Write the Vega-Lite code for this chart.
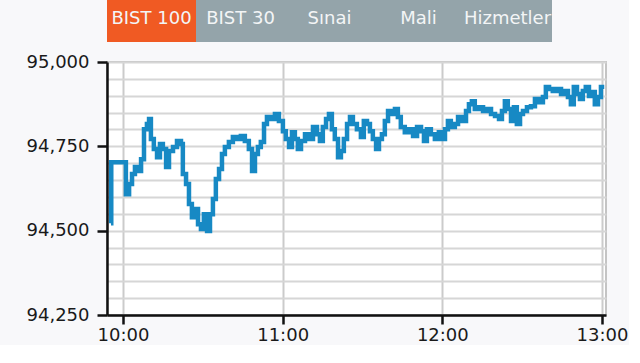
{
  "$schema": "https://vega.github.io/schema/vega-lite/v6.json",
  "background": "#f8f8fa",
  "padding": 0,
  "spacing": 10,
  "align": "none",
  "config": {"font": "DejaVu Sans", "view": {"stroke": null}},
  "vconcat": [
    {
      "width": 445,
      "height": 42,
      "data": {"values": [
        {"tab": "BIST 100", "active": "yes"},
        {"tab": "BIST 30", "active": "no"},
        {"tab": "Sınai", "active": "no"},
        {"tab": "Mali", "active": "no"},
        {"tab": "Hizmetler", "active": "no"}
      ]},
      "encoding": {
        "x": {"field": "tab", "type": "nominal", "sort": null, "scale": {"paddingInner": 0, "paddingOuter": 0}, "axis": null}
      },
      "layer": [
        {
          "mark": {"type": "rect"},
          "encoding": {
            "color": {"field": "active", "type": "nominal", "scale": {"domain": ["yes", "no"], "range": ["#f05a23", "#94a4aa"]}, "legend": null}
          }
        },
        {
          "mark": {"type": "text", "fontSize": 18, "color": "#f3f5f6", "dy": -2},
          "encoding": {"text": {"field": "tab"}}
        }
      ]
    },
    {
      "width": 499,
      "height": 253,
      "view": {"fill": "white", "stroke": "#c4c4c4", "strokeWidth": 2},
      "data": {
        "format": {"parse": {"t": "utc:'%H:%M:%S'"}},
        "values": [
          {"t": "09:55:30", "v": 94522},
          {"t": "09:55:36", "v": 94703},
          {"t": "10:00:00", "v": 94703},
          {"t": "10:01:06", "v": 94608},
          {"t": "10:02:18", "v": 94638},
          {"t": "10:03:24", "v": 94668},
          {"t": "10:04:30", "v": 94689},
          {"t": "10:05:36", "v": 94677},
          {"t": "10:06:48", "v": 94712},
          {"t": "10:07:54", "v": 94801},
          {"t": "10:09:00", "v": 94816},
          {"t": "10:09:48", "v": 94831},
          {"t": "10:10:30", "v": 94772},
          {"t": "10:11:36", "v": 94742},
          {"t": "10:12:48", "v": 94718},
          {"t": "10:13:54", "v": 94757},
          {"t": "10:15:00", "v": 94742},
          {"t": "10:16:12", "v": 94689},
          {"t": "10:17:18", "v": 94736},
          {"t": "10:18:48", "v": 94748},
          {"t": "10:20:18", "v": 94766},
          {"t": "10:21:48", "v": 94757},
          {"t": "10:22:30", "v": 94668},
          {"t": "10:23:42", "v": 94638},
          {"t": "10:24:48", "v": 94579},
          {"t": "10:25:54", "v": 94540},
          {"t": "10:27:06", "v": 94564},
          {"t": "10:28:12", "v": 94519},
          {"t": "10:29:18", "v": 94505},
          {"t": "10:30:24", "v": 94549},
          {"t": "10:31:36", "v": 94499},
          {"t": "10:32:42", "v": 94549},
          {"t": "10:33:48", "v": 94594},
          {"t": "10:34:54", "v": 94653},
          {"t": "10:36:06", "v": 94683},
          {"t": "10:37:12", "v": 94727},
          {"t": "10:38:18", "v": 94748},
          {"t": "10:39:48", "v": 94763},
          {"t": "10:41:18", "v": 94778},
          {"t": "10:42:48", "v": 94772},
          {"t": "10:44:18", "v": 94781},
          {"t": "10:45:48", "v": 94766},
          {"t": "10:47:18", "v": 94742},
          {"t": "10:48:30", "v": 94677},
          {"t": "10:49:36", "v": 94727},
          {"t": "10:50:42", "v": 94748},
          {"t": "10:51:48", "v": 94763},
          {"t": "10:53:00", "v": 94816},
          {"t": "10:54:06", "v": 94837},
          {"t": "10:55:36", "v": 94831},
          {"t": "10:57:06", "v": 94846},
          {"t": "10:58:36", "v": 94825},
          {"t": "11:00:06", "v": 94795},
          {"t": "11:01:12", "v": 94772},
          {"t": "11:02:24", "v": 94748},
          {"t": "11:03:30", "v": 94792},
          {"t": "11:04:36", "v": 94772},
          {"t": "11:05:42", "v": 94742},
          {"t": "11:06:54", "v": 94766},
          {"t": "11:08:24", "v": 94786},
          {"t": "11:09:54", "v": 94772},
          {"t": "11:11:24", "v": 94807},
          {"t": "11:12:54", "v": 94786},
          {"t": "11:14:00", "v": 94766},
          {"t": "11:15:06", "v": 94807},
          {"t": "11:16:18", "v": 94831},
          {"t": "11:17:24", "v": 94846},
          {"t": "11:18:30", "v": 94801},
          {"t": "11:19:36", "v": 94772},
          {"t": "11:20:48", "v": 94718},
          {"t": "11:21:54", "v": 94736},
          {"t": "11:23:00", "v": 94772},
          {"t": "11:24:12", "v": 94816},
          {"t": "11:25:18", "v": 94837},
          {"t": "11:26:24", "v": 94816},
          {"t": "11:27:54", "v": 94801},
          {"t": "11:29:24", "v": 94778},
          {"t": "11:30:30", "v": 94825},
          {"t": "11:31:42", "v": 94816},
          {"t": "11:32:48", "v": 94795},
          {"t": "11:33:54", "v": 94772},
          {"t": "11:35:06", "v": 94742},
          {"t": "11:36:12", "v": 94772},
          {"t": "11:37:18", "v": 94786},
          {"t": "11:38:24", "v": 94825},
          {"t": "11:39:36", "v": 94855},
          {"t": "11:40:42", "v": 94846},
          {"t": "11:42:12", "v": 94861},
          {"t": "11:43:18", "v": 94837},
          {"t": "11:44:24", "v": 94807},
          {"t": "11:45:54", "v": 94792},
          {"t": "11:47:30", "v": 94801},
          {"t": "11:49:00", "v": 94781},
          {"t": "11:50:30", "v": 94807},
          {"t": "11:52:00", "v": 94795},
          {"t": "11:53:06", "v": 94766},
          {"t": "11:54:12", "v": 94801},
          {"t": "11:55:42", "v": 94786},
          {"t": "11:57:12", "v": 94772},
          {"t": "11:58:42", "v": 94792},
          {"t": "11:59:48", "v": 94772},
          {"t": "12:01:00", "v": 94801},
          {"t": "12:02:06", "v": 94825},
          {"t": "12:03:12", "v": 94807},
          {"t": "12:04:42", "v": 94816},
          {"t": "12:05:54", "v": 94837},
          {"t": "12:07:24", "v": 94825},
          {"t": "12:08:54", "v": 94855},
          {"t": "12:10:00", "v": 94875},
          {"t": "12:11:06", "v": 94884},
          {"t": "12:12:12", "v": 94861},
          {"t": "12:13:42", "v": 94866},
          {"t": "12:15:18", "v": 94855},
          {"t": "12:16:48", "v": 94861},
          {"t": "12:18:18", "v": 94846},
          {"t": "12:19:48", "v": 94840},
          {"t": "12:21:18", "v": 94831},
          {"t": "12:22:24", "v": 94855},
          {"t": "12:23:30", "v": 94884},
          {"t": "12:24:36", "v": 94861},
          {"t": "12:25:48", "v": 94825},
          {"t": "12:26:54", "v": 94866},
          {"t": "12:28:00", "v": 94816},
          {"t": "12:29:12", "v": 94846},
          {"t": "12:30:18", "v": 94855},
          {"t": "12:31:48", "v": 94866},
          {"t": "12:33:18", "v": 94869},
          {"t": "12:34:48", "v": 94890},
          {"t": "12:36:18", "v": 94881},
          {"t": "12:37:48", "v": 94896},
          {"t": "12:38:54", "v": 94926},
          {"t": "12:40:06", "v": 94920},
          {"t": "12:41:30", "v": 94914},
          {"t": "12:43:06", "v": 94920},
          {"t": "12:44:36", "v": 94905},
          {"t": "12:46:06", "v": 94914},
          {"t": "12:47:12", "v": 94896},
          {"t": "12:48:18", "v": 94875},
          {"t": "12:49:24", "v": 94926},
          {"t": "12:50:36", "v": 94905},
          {"t": "12:51:42", "v": 94890},
          {"t": "12:52:48", "v": 94914},
          {"t": "12:53:54", "v": 94926},
          {"t": "12:55:06", "v": 94899},
          {"t": "12:56:12", "v": 94911},
          {"t": "12:57:18", "v": 94875},
          {"t": "12:58:30", "v": 94896},
          {"t": "12:59:36", "v": 94926},
          {"t": "13:00:00", "v": 94920}
        ]
      },
      "encoding": {
        "x": {
          "field": "t", "type": "temporal",
          "scale": {"type": "utc", "domain": [-2208953160000, -2208941910000]},
          "axis": {
            "title": null, "format": "%H:%M",
            "values": [-2208952800000, -2208949200000, -2208945600000, -2208942000000],
            "grid": true, "gridColor": "#cbcbcb", "gridWidth": 2,
            "tickSize": 9, "tickWidth": 2.5, "tickColor": "#111111",
            "domainColor": "#111111", "domainWidth": 2.5,
            "labelFontSize": 18, "labelColor": "#1a1a1a", "labelPadding": 2, "labelFlush": false
          }
        }
      },
      "layer": [
        {
          "mark": {"type": "line", "strokeOpacity": 0},
          "encoding": {
            "y": {
              "field": "v", "type": "quantitative",
              "scale": {"domain": [94250, 95000], "nice": false, "zero": false},
              "axis": {
                "title": null, "orient": "left",
                "values": [94250, 94300, 94350, 94400, 94450, 94500, 94550, 94600, 94650, 94700, 94750, 94800, 94850, 94900, 94950, 95000],
                "grid": true, "gridColor": "#d6d6d6", "gridWidth": 2,
                "labels": false, "ticks": false, "domain": false,
                "minExtent": 0, "maxExtent": 0
              }
            }
          }
        },
        {
          "mark": {"type": "line", "interpolate": "step-after", "strokeWidth": 4.5, "color": "#1789c4", "clip": true},
          "encoding": {
            "y": {
              "field": "v", "type": "quantitative",
              "scale": {"domain": [94250, 95000], "nice": false, "zero": false},
              "axis": {
                "title": null, "orient": "left", "format": ",d",
                "values": [94250, 94500, 94750, 95000],
                "grid": false,
                "tickSize": 10, "tickWidth": 2.5, "tickColor": "#111111",
                "domainColor": "#111111", "domainWidth": 2.5,
                "labelFontSize": 18, "labelColor": "#1a1a1a", "labelPadding": 8,
                "minExtent": 106, "maxExtent": 106
              }
            }
          }
        }
      ],
      "resolve": {"axis": {"y": "independent"}}
    }
  ]
}
